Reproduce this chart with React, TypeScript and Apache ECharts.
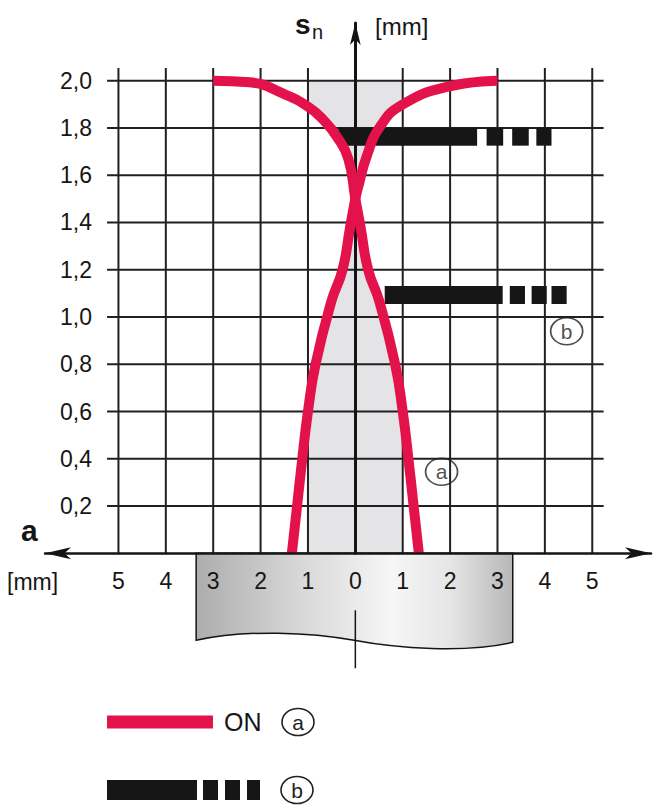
import React, { useEffect, useRef } from 'react';
import * as echarts from 'echarts';

// ---------- data ----------
// "ON" curve (a), approach from the left side (descends to the right)
const onLeftX = [-3.0, -2.23, -1.52, -1.0, -0.68, -0.39, -0.15, 0, 0.11, 0.27, 0.5, 0.84, 1.0, 1.12, 1.23, 1.34];
const onLeftY = [2.0, 1.993, 1.945, 1.89, 1.835, 1.763, 1.67, 1.5, 1.38, 1.2, 1.07, 0.8, 0.6, 0.4, 0.2, 0.0];
// "ON" curve (a), approach from the right side (rises to the right)
const onRightX = [-1.34, -1.23, -1.12, -1.0, -0.84, -0.5, -0.27, -0.11, 0, 0.06, 0.24, 0.52, 0.98, 1.96, 3.0];
const onRightY = [0.0, 0.2, 0.4, 0.6, 0.8, 1.07, 1.2, 1.38, 1.5, 1.55, 1.68, 1.805, 1.897, 1.975, 2.0];

// shaded zone limits (mm)
const zoneXMin = -1;
const zoneXMax = 1;
const zoneTop = 2.0;

// curve (b): solid bar + three dashes, two levels
const bLevel1 = 1.763;
const bSeg1Start = [-0.36, 2.77, 3.31, 3.82];
const bSeg1End = [2.57, 3.12, 3.66, 4.14];
const bLevel2 = 1.093;
const bSeg2Start = [0.62, 3.26, 3.72, 4.14];
const bSeg2End = [3.11, 3.58, 4.04, 4.46];

// axes / grid
const xTickValues = [-5, -4, -3, -2, -1, 0, 1, 2, 3, 4, 5];
const yTickValues = [0.2, 0.4, 0.6, 0.8, 1.0, 1.2, 1.4, 1.6, 1.8, 2.0];
const gridLineTop = 2.054;
const gridLineHalf = 5.24;

// circled curve labels
const markLabels = ['a', 'b'];
const markX = [1.82, 4.46];
const markY = [0.345, 0.94];

// sensor face below the axis (mm)
const faceStart = -3.36;
const faceEnd = 3.32;

// ---------- styles ----------
const FONT = '"Liberation Sans", Arial, Helvetica, sans-serif';
const RED = '#e3124b';
const INK = '#141414';
const TXT = '#161616';
const FACE_W = 316.6;
const FACE_D = 'M0 0 L316.6 0 L316.6 89 C270 100 200 95 158 87 C115 79 50 76 0 87 Z';
const ELLIPSE = 'path://M0,10 A10,10 0 1,1 20,10 A10,10 0 1,1 0,10 Z';

let registered = false;
function ensureShape() {
  if (registered) return;
  echarts.graphic.registerShape('sensorFace', echarts.graphic.extendPath(FACE_D, {}));
  registered = true;
}

function zip(xs: number[], ys: number[]) {
  return xs.map((x, i) => [x, ys[i]]);
}

// shaded zone: band [zoneXMin, zoneXMax] x [0, zoneTop] limited to the inside of the two ON curves
const zonePolygon = (() => {
  const pts = [...zip(onLeftX, onLeftY), ...zip(onRightX, onRightY)];
  const right = pts
    .filter((p) => p[0] >= 0)
    .map((p) => [Math.min(zoneXMax, p[0]), Math.min(zoneTop, p[1])])
    .sort((a, b) => a[1] - b[1]);
  const left = pts
    .filter((p) => p[0] <= 0)
    .map((p) => [Math.max(zoneXMin, p[0]), Math.min(zoneTop, p[1])])
    .sort((a, b) => b[1] - a[1]);
  return [[zoneXMax, 0], ...right, [zoneXMax, zoneTop], [zoneXMin, zoneTop], ...left, [zoneXMin, 0]];
})();

const gridRows = [
  ...xTickValues.map((x) => [x, 0, x, gridLineTop]),
  ...yTickValues.map((y) => [-gridLineHalf, y, gridLineHalf, y]),
];

const bRows = [
  ...bSeg1Start.map((s, i) => [s, bSeg1End[i], bLevel1]),
  ...bSeg2Start.map((s, i) => [s, bSeg2End[i], bLevel2]),
];

const yFmt = (v: number) => (v < 0.1 || v > 2.01 ? '' : v.toFixed(1).replace('.', ','));

function buildOption(): any {
  return {
    animation: false,
    backgroundColor: '#ffffff',
    grid: { left: 45, right: 14, top: 23, bottom: 251.7, containLabel: false, outerBoundsMode: 'none' },
    xAxis: {
      type: 'value',
      min: -6.55,
      max: 6.24,
      z: 10,
      axisLine: {
        show: true,
        onZero: true,
        symbol: ['arrow', 'arrow'],
        symbolSize: [9, 26],
        lineStyle: { color: INK, width: 2.5 },
      },
      axisTick: { show: false },
      splitLine: { show: false },
      axisLabel: {
        customValues: xTickValues,
        formatter: (v: number) => String(Math.abs(Math.round(v))),
        margin: 16,
        fontSize: 23,
        color: TXT,
        fontFamily: FONT,
      },
    },
    yAxis: [
      {
        type: 'value',
        min: 0,
        max: 2.244,
        interval: 0.2,
        position: 'left',
        offset: -62,
        axisLine: { show: false, onZero: false },
        axisTick: { show: false },
        splitLine: { show: false },
        axisLabel: {
          customValues: yTickValues,
          formatter: yFmt,
          margin: 15,
          fontSize: 23,
          color: TXT,
          fontFamily: FONT,
        },
      },
      {
        type: 'value',
        min: 0,
        max: 2.244,
        z: 3,
        axisLine: {
          show: true,
          onZero: true,
          symbol: ['none', 'arrow'],
          symbolSize: [8, 22],
          lineStyle: { color: INK, width: 3 },
        },
        axisTick: { show: false },
        splitLine: { show: false },
        axisLabel: { show: false },
      },
    ],
    series: [
      {
        type: 'custom',
        name: 'zone',
        z: 1,
        silent: true,
        data: [[0, 0]],
        renderItem: (_p: any, api: any) => ({
          type: 'polygon',
          shape: { points: zonePolygon.map((p) => api.coord(p)) },
          style: { fill: '#e4e4e6' },
        }),
      },
      {
        type: 'custom',
        name: 'grid',
        z: 2,
        silent: true,
        data: gridRows,
        encode: { x: [0, 2], y: [1, 3] },
        renderItem: (_p: any, api: any) => {
          const a = api.coord([api.value(0), api.value(1)]);
          const b = api.coord([api.value(2), api.value(3)]);
          return {
            type: 'line',
            shape: { x1: a[0], y1: a[1], x2: b[0], y2: b[1] },
            style: { stroke: '#202020', lineWidth: 2 },
          };
        },
      },
      {
        type: 'custom',
        name: 'b',
        z: 4,
        silent: true,
        data: bRows,
        encode: { x: [0, 1], y: 2 },
        renderItem: (_p: any, api: any) => {
          const s = api.coord([api.value(0), api.value(2)]);
          const e = api.coord([api.value(1), api.value(2)]);
          return {
            type: 'rect',
            shape: { x: s[0], y: s[1] - 9, width: e[0] - s[0], height: 18 },
            style: { fill: '#161616' },
          };
        },
      },
      {
        type: 'line',
        name: 'ON (from left)',
        z: 5,
        data: zip(onLeftX, onLeftY),
        smooth: 0.5,
        showSymbol: false,
        symbol: 'none',
        silent: true,
        lineStyle: { color: RED, width: 10, cap: 'butt' },
      },
      {
        type: 'line',
        name: 'ON (from right)',
        z: 5,
        data: zip(onRightX, onRightY),
        smooth: 0.5,
        showSymbol: false,
        symbol: 'none',
        silent: true,
        lineStyle: { color: RED, width: 10, cap: 'butt' },
      },
      {
        type: 'scatter',
        name: 'marks',
        z: 6,
        silent: true,
        data: markX.map((x, i) => [x, markY[i], markLabels[i]]),
        symbol: ELLIPSE,
        symbolSize: [32, 27],
        itemStyle: { color: 'rgba(255,255,255,0)', borderColor: '#222', borderWidth: 1.6 },
        label: {
          show: true,
          position: 'inside',
          formatter: (p: any) => p.value[2],
          color: '#222',
          fontSize: 21,
          fontFamily: FONT,
        },
      },
    ],
  };
}

function buildGraphic(chart: any): any[] {
  const toPx = (x: number, y: number) =>
    chart.convertToPixel({ xAxisIndex: 0, yAxisIndex: 0 }, [x, y]) as number[];
  const [fx0, axisY] = toPx(faceStart, 0);
  const [fx1] = toPx(faceEnd, 0);
  const [cx] = toPx(0, 0);
  const gray = new echarts.graphic.LinearGradient(0, 0, 1, 0, [
    { offset: 0, color: '#adadad' },
    { offset: 0.35, color: '#dadada' },
    { offset: 0.62, color: '#f6f6f6' },
    { offset: 0.8, color: '#e6e6e6' },
    { offset: 1, color: '#b8b8b8' },
  ]);
  const txt = (text: string, x: number, y: number, size: number, weight: string = 'normal') => ({
    type: 'text',
    x,
    y,
    z: 20,
    silent: true,
    style: {
      text,
      fontSize: size,
      fontWeight: weight,
      fontFamily: FONT,
      fill: TXT,
      align: 'left',
      verticalAlign: 'middle',
    },
  });
  const circ = (text: string, x: number, y: number) => [
    {
      type: 'ellipse',
      z: 20,
      silent: true,
      shape: { cx: x, cy: y, rx: 16, ry: 13.5 },
      style: { fill: 'none', stroke: '#222', lineWidth: 1.6 },
    },
    {
      type: 'text',
      x,
      y,
      z: 21,
      silent: true,
      style: { text, fontSize: 21, fontFamily: FONT, fill: '#222', align: 'center', verticalAlign: 'middle' },
    },
  ];
  return [
    {
      type: 'sensorFace',
      x: fx0,
      y: axisY,
      scaleX: (fx1 - fx0) / FACE_W,
      z: 1,
      silent: true,
      style: { fill: gray, stroke: INK, lineWidth: 1.5 },
    },
    {
      type: 'line',
      z: 2,
      silent: true,
      shape: { x1: cx, y1: axisY + 57, x2: cx, y2: axisY + 115 },
      style: { stroke: INK, lineWidth: 1.5 },
    },
    txt('s', 295, 24, 28, 'bold'),
    txt('n', 312, 32, 20),
    txt('[mm]', 375, 26, 24),
    txt('a', 21, 530, 30, 'bold'),
    txt('[mm]', 7, 582, 23),
    // legend (a)
    { type: 'rect', z: 20, silent: true, shape: { x: 107, y: 715.5, width: 106, height: 13 }, style: { fill: RED } },
    txt('ON', 224, 722, 25),
    ...circ('a', 298, 722),
    // legend (b)
    { type: 'rect', z: 20, silent: true, shape: { x: 107, y: 780, width: 90, height: 20 }, style: { fill: '#161616' } },
    { type: 'rect', z: 20, silent: true, shape: { x: 203, y: 780, width: 15, height: 20 }, style: { fill: '#161616' } },
    { type: 'rect', z: 20, silent: true, shape: { x: 225, y: 780, width: 15, height: 20 }, style: { fill: '#161616' } },
    { type: 'rect', z: 20, silent: true, shape: { x: 247, y: 780, width: 13, height: 20 }, style: { fill: '#161616' } },
    ...circ('b', 297, 790),
  ];
}

export default function App() {
  const ref = useRef<HTMLDivElement>(null);
  useEffect(() => {
    const el = ref.current;
    if (!el) return;
    ensureShape();
    const chart = echarts.init(el, null, { renderer: 'svg' });
    chart.setOption(buildOption());
    chart.setOption({ graphic: buildGraphic(chart) });
    return () => {
      chart.dispose();
    };
  }, []);
  return (
    <div
      ref={ref}
      style={{ position: 'fixed', left: 0, top: 0, width: 665, height: 805, background: '#fff' }}
    />
  );
}
